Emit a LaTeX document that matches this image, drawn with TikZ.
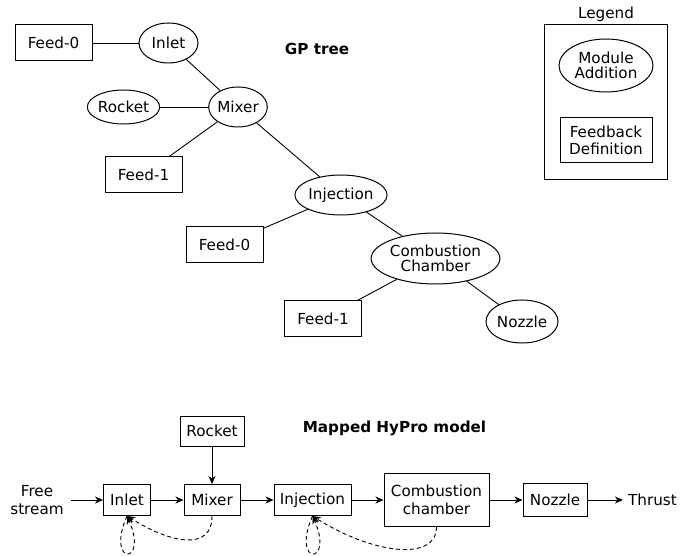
\documentclass[tikz,border=0pt]{standalone}
\usepackage{fontspec}
\setmainfont{DejaVu Sans}
\usetikzlibrary{shapes.geometric,arrows.meta}
\begin{document}
\begin{tikzpicture}[x=1pt,y=-1pt,
  every node/.style={font=\fontsize{15.2}{18}\selectfont, inner sep=0pt, align=center},
  ell/.style={draw, ellipse, line width=1pt},
  box/.style={draw, rectangle, line width=1pt},
  title/.style={font=\fontsize{15.2}{18}\selectfont\bfseries},
  tline/.style={line width=0.9pt},
  flow/.style={line width=0.9pt, -{Stealth[length=8pt,width=7pt,inset=2.5pt]}},
  fb/.style={line width=0.9pt, dash pattern=on 4pt off 3pt, -{Stealth[length=8pt,width=7pt,inset=2.5pt]}},
]
\useasboundingbox (0,0) rectangle (694,556);
% ---------- GP tree ----------
\node[box, minimum width=77pt, minimum height=36pt] (f0a) at (53.5,43) {Feed-0};
\node[ell, minimum width=59pt, minimum height=40pt] (inletT) at (168.5,43) {Inlet};
\node[title] (gp) at (317,49) {GP tree};
\node[ell, minimum width=69pt, minimum height=34pt] (rocketT) at (123.5,107) {Rocket};
\node[ell, minimum width=58pt, minimum height=40pt] (mixerT) at (238,107) {Mixer};
\node[box, minimum width=77pt, minimum height=36pt] (f1a) at (143.5,175) {Feed-1};
\node[ell, minimum width=90pt, minimum height=40pt] (injT) at (341,195) {Injection};
\node[box, minimum width=77pt, minimum height=36pt] (f0b) at (224.5,245) {Feed-0};
\node[ell, minimum width=117pt, minimum height=51pt] (combT) at (435.5,258.5) {Combustion\\[-3pt]Chamber};
\node[box, minimum width=77pt, minimum height=36pt] (f1b) at (323,319) {Feed-1};
\node[ell, minimum width=72pt, minimum height=43pt] (nozT) at (522,321.5) {Nozzle};
\draw[tline] (f0a) -- (inletT);
\draw[tline] (inletT) -- (mixerT);
\draw[tline] (rocketT) -- (mixerT);
\draw[tline] (mixerT) -- (f1a);
\draw[tline] (mixerT) -- (injT);
\draw[tline] (injT) -- (f0b);
\draw[tline] (injT) -- (combT);
\draw[tline] (combT) -- (f1b);
\draw[tline] (combT) -- (nozT);
% ---------- Legend ----------
\node (legt) at (606,14) {Legend};
\node[box, minimum width=123pt, minimum height=155pt] (legbox) at (605.5,102.5) {};
\node[ell, minimum width=94pt, minimum height=53pt] (legmod) at (606,65.5) {Module\\[-3pt]Addition};
\node[box, minimum width=92pt, minimum height=45pt] (legfb) at (606,140.5) {Feedback\\[-1.5pt]Definition};
% ---------- Mapped HyPro model ----------
\node[title] (hypro) at (394.5,428.5) {Mapped HyPro model};
\node (free) at (37,500) {Free\\stream};
\node[box, minimum width=47pt, minimum height=31pt] (inlet) at (127,500) {Inlet};
\node[box, minimum width=64pt, minimum height=30pt] (rocket) at (212,431) {Rocket};
\node[box, minimum width=56pt, minimum height=31pt] (mixer) at (212,500) {Mixer};
\node[box, minimum width=77pt, minimum height=31pt] (inj) at (312.5,500) {Injection};
\node[box, minimum width=105pt, minimum height=53pt] (comb) at (436.5,500) {Combustion\\chamber};
\node[box, minimum width=64pt, minimum height=33pt] (noz) at (555,500) {Nozzle};
\node (thrust) at (652.5,500) {Thrust};
\draw[flow] ([xshift=7pt]free.east) -- (inlet.west);
\draw[flow] (inlet) -- (mixer);
\draw[flow] (rocket) -- (mixer);
\draw[flow] (mixer) -- (inj);
\draw[flow] (inj) -- (comb);
\draw[flow] (comb) -- (noz);
\draw[flow] (noz) -- ([xshift=-5pt]thrust.west);
\draw[fb] (mixer.south) .. controls +(0,35) and +(45,28) .. (inlet.south);
\draw[fb] (inlet.south) .. controls +(-22,50) and +(22,50) .. (inlet.south);
\draw[fb] (comb.south) .. controls +(0,35) and +(60,38) .. (inj.south);
\draw[fb] (inj.south) .. controls +(-22,50) and +(22,50) .. (inj.south);
\end{tikzpicture}
\end{document}
